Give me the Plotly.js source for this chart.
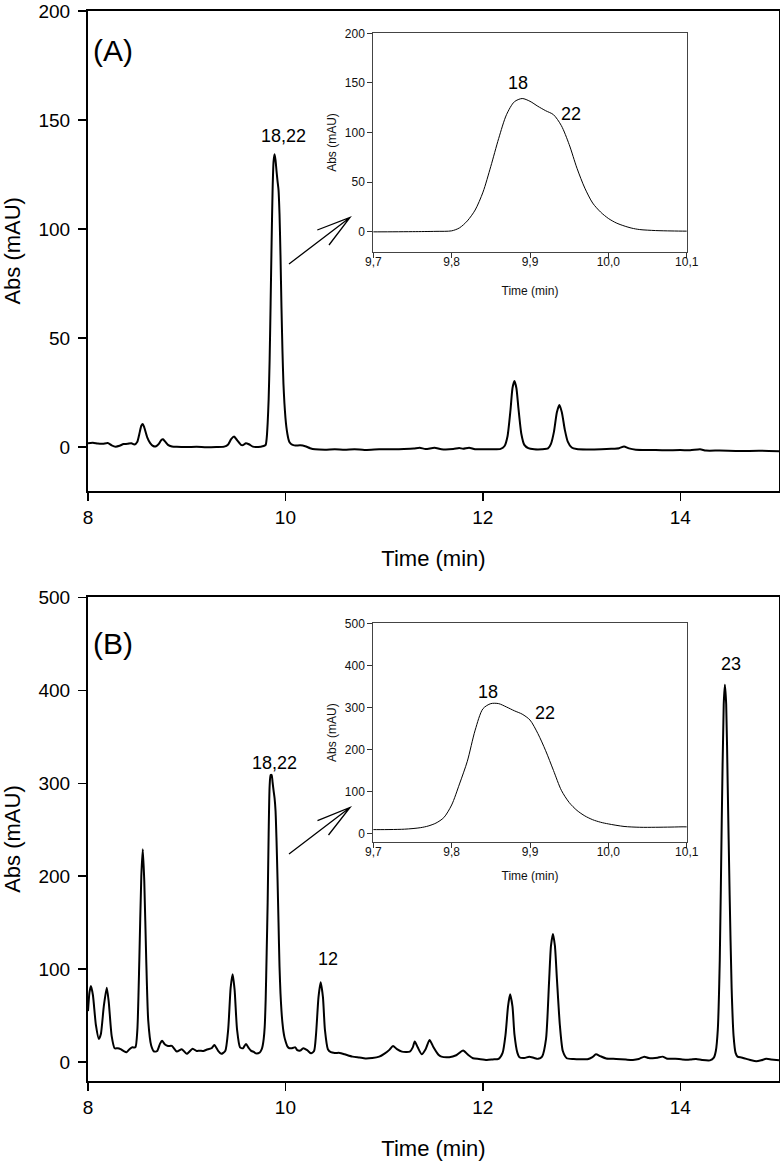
<!DOCTYPE html>
<html>
<head>
<meta charset="utf-8">
<script src="https://cdn.plot.ly/plotly-3.0.1.min.js"></script>
<style>html,body{margin:0;padding:0;background:#fff;}#chart{width:780px;height:1162px;}</style>
</head>
<body>
<div id="chart"></div>
<script>
// ---------- Data ----------
// Panel (A) chromatogram: time (min) and absorbance (mAU)
const timeA = [8.00,8.05,8.10,8.15,8.20,8.24,8.28,8.32,8.36,8.40,8.44,8.47,8.50,8.52,8.54,8.555,8.57,8.60,8.63,8.66,8.69,8.72,8.745,8.76,8.78,8.81,8.85,8.90,9.00,9.10,9.20,9.30,9.38,9.42,9.45,9.48,9.51,9.55,9.57,9.60,9.63,9.67,9.70,9.75,9.78,
  9.80,9.81,9.82,9.83,9.84,9.85,9.86,9.87,9.88,9.89,9.90,9.91,9.92,9.93,9.94,9.95,9.96,9.97,9.98,9.99,10.00,10.01,10.02,10.03,10.04,10.06,10.08,10.10,
  10.15,10.20,10.25,10.30,10.40,10.50,10.60,10.70,10.80,10.90,11.00,11.10,11.20,11.30,11.36,11.42,11.51,11.58,11.70,11.76,11.80,11.86,11.92,12.00,12.10,12.18,
  12.22,12.25,12.28,12.30,12.32,12.34,12.36,12.39,12.42,12.46,12.52,12.60,12.66,12.69,12.72,12.75,12.775,12.80,12.83,12.86,12.90,12.95,13.05,13.20,13.30,13.38,13.43,13.48,13.55,13.70,13.85,14.00,14.10,14.20,14.26,14.40,14.60,14.80,15.00];
const absA = [1.8,2.0,1.6,1.5,1.9,0.8,0.2,0.6,1.4,1.5,1.8,1.2,2.5,6,9.8,10.6,9,4.5,1.8,0.5,0.4,1.6,3.4,3.6,2.6,1.0,0.3,0.1,0,0.1,-0.1,0,0.2,1.2,3.6,4.8,3.2,1.0,0.9,1.8,1.3,0.2,0,0.2,0.5,
  1.0,4,11,22,40,66,94,118,131,134.3,131.5,126.5,122,118,107,88,64,44,29,20,13.5,9,6,3.7,2.3,1.3,0.9,0.7,
  0.8,0.4,-0.5,-1.0,-1.2,-1.0,-1.2,-1.0,-1.3,-1.1,-1.0,-1.0,-0.9,-0.7,-0.3,-0.9,-0.3,-1.0,-0.9,-0.4,-0.8,-0.3,-1.0,-1.0,-1.0,-0.8,
  0.5,5,17,27,30.3,27,18,6,1,-0.5,-1.0,-1.0,-0.6,1.5,7,16,19.3,16,8,2.5,-0.2,-0.9,-1.1,-1.0,-0.8,-0.5,0.3,-0.6,-1.2,-1.3,-1.5,-1.3,-1.5,-1.0,-1.6,-1.6,-1.8,-1.7,-1.9];

// Panel (B) chromatogram
const timeB = [8.00,8.015,8.03,8.05,8.08,8.11,8.13,8.16,8.19,8.21,8.24,8.27,8.30,8.33,8.36,8.39,8.42,8.45,8.48,8.50,8.52,8.54,8.555,8.57,8.59,8.61,8.64,8.67,8.70,8.73,8.75,8.78,8.81,8.85,8.90,8.95,9.00,9.06,9.10,9.13,9.17,9.20,9.25,9.28,9.32,9.35,9.39,9.42,9.445,9.465,9.485,9.51,9.54,9.57,9.60,9.63,9.65,9.68,
  9.70,9.74,9.76,9.77,9.78,9.79,9.80,9.81,9.82,9.83,9.84,9.85,9.86,9.87,9.88,9.89,9.90,9.91,9.92,9.93,9.94,9.95,9.96,9.97,9.98,9.99,10.00,10.02,10.04,10.06,10.08,10.10,
  10.12,10.15,10.18,10.22,10.26,10.29,10.31,10.335,10.357,10.38,10.40,10.43,10.46,10.50,10.55,10.60,10.68,10.75,10.81,10.88,10.95,11.00,11.05,11.09,11.13,11.18,11.26,11.29,11.31,11.34,11.38,11.42,11.46,11.50,11.55,11.58,11.66,11.73,11.80,11.85,11.90,11.96,12.04,12.10,12.16,
  12.20,12.23,12.255,12.276,12.30,12.32,12.35,12.37,12.42,12.47,12.52,12.56,12.60,12.64,12.67,12.69,12.71,12.73,12.75,12.78,12.81,12.85,12.92,12.98,13.06,13.11,13.146,13.19,13.25,13.35,13.45,13.52,13.58,13.635,13.68,13.72,13.77,13.82,13.86,13.89,13.95,14.02,14.10,14.16,14.22,14.30,
  14.34,14.36,14.38,14.40,14.42,14.44,14.452,14.465,14.48,14.50,14.52,14.54,14.56,14.58,14.62,14.67,14.72,14.77,14.82,14.87,14.92,15.00];
const absB = [55,75,82,72,40,25,30,60,80,65,28,15,15,14,12,10.7,14,16,16,35,110,200,229,195,110,45,18,11.5,12,20,23,19,17.5,17.5,11.4,14,9,14.5,12,12.4,12,13.4,15,18.4,12,9,12,35,80,94.6,78,35,16,15,19.7,15,12.4,11,
  9.5,10.5,14,18,25,38,68,118,172,246,297,309,309,301,292,284,270,238,197,150,103,74,55,42,33,27,23,17,15,15,15.5,16,
  13,12.5,15,13,9.5,12,30,70,86,70,35,14,10.8,10,10,8.5,6,5,4,4.5,6,9,13,17.5,14,11.4,11.4,16,22.2,16,8.6,14,24,16,8,6,5.4,7.5,12.5,8,4.3,3.5,2.5,3,3.6,
  10,30,60,73,60,30,10,5.4,4.5,6,4.5,3.6,6,25,85,125,138,125,90,40,12,4.3,3.5,3.2,3.2,5.5,8.6,6.5,4,3.5,2.8,2.5,3.5,6,4.5,4.3,4.8,6,4,3.6,3.8,3.0,2.8,3.4,2.4,2.0,
  5,12,35,110,260,385,406,385,300,180,80,28,10,6,5,3.6,2,1,2,3.6,3,2];

// Tick values / labels
const mainXTicks = [8, 10, 12, 14];
const mainYTicksA = [0, 50, 100, 150, 200];
const mainYTicksB = [0, 100, 200, 300, 400, 500];
const insetXTicks = [9.7, 9.8, 9.9, 10.0, 10.1];
const insetXTickText = ['9,7', '9,8', '9,9', '10,0', '10,1'];
const insetYTicksA = [0, 50, 100, 150, 200];
const insetYTicksB = [0, 100, 200, 300, 400, 500];

// Peak labels
const peakLabelsA = [{text: '18,22', t: 9.976, v: 142.7}];
const insetLabelsA = [{text: '18', t: 9.885, v: 150}, {text: '22', t: 9.952, v: 119}];
const peakLabelsB = [{text: '18,22', t: 9.892, v: 321.5}, {text: '12', t: 10.431, v: 110.8}, {text: '23', t: 14.511, v: 428.3}];
const insetLabelsB = [{text: '18', t: 9.847, v: 337}, {text: '22', t: 9.919, v: 286}];

// ---------- Plot ----------
const W = 780, H = 1162;
const FONT = 'Arial, "Liberation Sans", Helvetica, sans-serif';
const px = x => x / W;
const py = y => 1 - y / H;

function mainX(domainAnchor) {
  return {
    domain: [px(88), px(779)], range: [8, 15], anchor: domainAnchor,
    tickvals: mainXTicks, ticks: 'outside', ticklen: 8, tickwidth: 1.5, tickcolor: '#000',
    showline: true, linewidth: 2, linecolor: '#000', mirror: true, ticklabeloverflow: 'allow',
    showgrid: false, zeroline: false, tickfont: {size: 19, color: '#000'},
    title: {text: 'Time (min)', font: {size: 22, color: '#000'}, standoff: 24}
  };
}
function mainY(domainPx, range, ticks, anchor) {
  return {
    domain: [py(domainPx[1]), py(domainPx[0])], range: range, anchor: anchor,
    tickvals: ticks, ticks: 'outside', ticklen: 8, tickwidth: 1.5, tickcolor: '#000',
    showline: true, linewidth: 2, linecolor: '#000', mirror: true, ticklabeloverflow: 'allow',
    ticklabelstandoff: 4,
    showgrid: false, zeroline: false, tickfont: {size: 19, color: '#000'},
    title: {text: 'Abs (mAU)', font: {size: 22, color: '#000'}, standoff: 17}
  };
}
function insetX(anchor, titleStandoff) {
  return {
    domain: [px(373.3), px(686.7)], range: [9.7, 10.1], anchor: anchor,
    tickvals: insetXTicks, ticktext: insetXTickText, ticks: 'outside', ticklen: 5, tickwidth: 1, tickcolor: '#333',
    showline: true, linewidth: 1, linecolor: '#444', mirror: true, ticklabeloverflow: 'allow',
    ticklabelstandoff: -6,
    showgrid: false, zeroline: false, tickfont: {size: 12, color: '#111'},
    title: {text: 'Time (min)', font: {size: 12, color: '#111'}, standoff: titleStandoff}
  };
}
function insetY(domainPx, range, ticks, anchor) {
  return {
    domain: [py(domainPx[1]), py(domainPx[0])], range: range, anchor: anchor,
    tickvals: ticks, ticks: 'outside', ticklen: 5, tickwidth: 1, tickcolor: '#333',
    showline: true, linewidth: 1, linecolor: '#444', mirror: true, ticklabeloverflow: 'allow',
    showgrid: false, zeroline: false, tickfont: {size: 12, color: '#111'},
    title: {text: 'Abs (mAU)', font: {size: 12, color: '#111'}, standoff: 5}
  };
}

const traces = [
  {x: timeA, y: absA, xaxis: 'x', yaxis: 'y', mode: 'lines', line: {color: '#000', width: 2, shape: 'spline', smoothing: 0.6}, hoverinfo: 'skip'},
  {x: timeA, y: absA, xaxis: 'x2', yaxis: 'y2', mode: 'lines', line: {color: '#000', width: 1, shape: 'spline', smoothing: 0.8}, hoverinfo: 'skip'},
  {x: timeB, y: absB, xaxis: 'x3', yaxis: 'y3', mode: 'lines', line: {color: '#000', width: 2, shape: 'spline', smoothing: 0.6}, hoverinfo: 'skip'},
  {x: timeB, y: absB, xaxis: 'x4', yaxis: 'y4', mode: 'lines', line: {color: '#000', width: 1, shape: 'spline', smoothing: 0.8}, hoverinfo: 'skip'}
];

const annotations = [];
function addLabels(list, xr, yr, size) {
  list.forEach(l => annotations.push({text: l.text, x: l.t, y: l.v, xref: xr, yref: yr, showarrow: false,
    font: {size: size, color: '#000'}, xanchor: 'center', yanchor: 'middle'}));
}
addLabels(peakLabelsA, 'x', 'y', 18);
addLabels(insetLabelsA, 'x2', 'y2', 18);
addLabels(peakLabelsB, 'x3', 'y3', 18);
addLabels(insetLabelsB, 'x4', 'y4', 18);
annotations.push({text: '(A)', x: px(113), y: py(51), xref: 'paper', yref: 'paper', showarrow: false, font: {size: 30, color: '#000'}, xanchor: 'center', yanchor: 'middle'});
annotations.push({text: '(B)', x: px(113), y: py(643), xref: 'paper', yref: 'paper', showarrow: false, font: {size: 30, color: '#000'}, xanchor: 'center', yanchor: 'middle'});

function arrowPath(tail, tip, b1, b2) {
  const p = (q) => px(q[0]) + ',' + py(q[1]);
  return 'M' + p(tail) + ' L' + p(tip) + ' M' + p(b1) + ' L' + p(tip) + ' L' + p(b2);
}
const shapes = [
  {type: 'path', xref: 'paper', yref: 'paper', path: arrowPath([289, 264], [350, 217.5], [317.3, 230], [329, 245]), line: {color: '#000', width: 1.3}},
  {type: 'path', xref: 'paper', yref: 'paper', path: arrowPath([289, 854], [350, 807.5], [317.5, 820.7], [328.5, 835]), line: {color: '#000', width: 1.3}}
];

const layout = {
  width: W, height: H, margin: {l: 0, r: 0, t: 0, b: 0},
  paper_bgcolor: '#fff', plot_bgcolor: 'rgba(0,0,0,0)', showlegend: false,
  font: {family: FONT, color: '#000'},
  xaxis: mainX('y'),
  yaxis: mainY([11, 490.7], [-20, 200], mainYTicksA, 'x'),
  xaxis2: insetX('y2', 18),
  yaxis2: insetY([33.3, 251.7], [-20, 200], insetYTicksA, 'x2'),
  xaxis3: mainX('y3'),
  yaxis3: mainY([597.3, 1080.8], [-20, 500], mainYTicksB, 'x3'),
  xaxis4: insetX('y4', 13),
  yaxis4: insetY([623.3, 842], [-20, 500], insetYTicksB, 'x4'),
  annotations: annotations,
  shapes: shapes
};

Plotly.newPlot('chart', traces, layout, {staticPlot: true, displayModeBar: false});
</script>
</body>
</html>
